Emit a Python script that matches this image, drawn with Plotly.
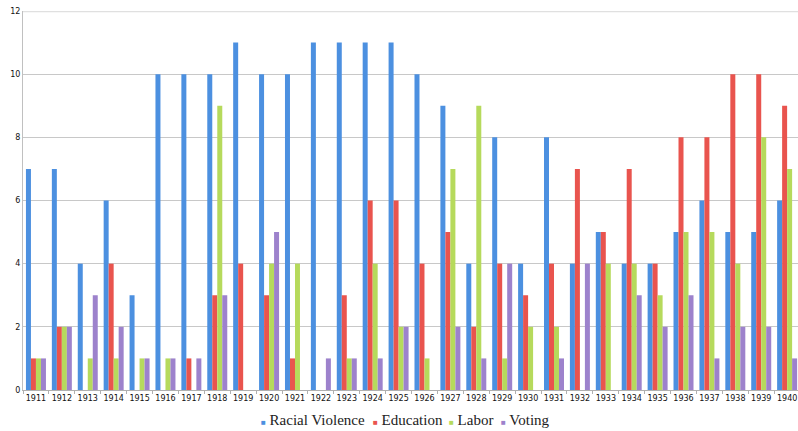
import plotly.graph_objects as go

years = [str(y) for y in range(1911, 1941)]
racial_violence = [7, 7, 4, 6, 3, 10, 10, 10, 11, 10, 10, 11, 11, 11, 11, 10, 9, 4, 8, 4, 8, 4, 5, 4, 4, 5, 6, 5, 5, 6]
education =       [1, 2, 0, 4, 0, 0, 1, 3, 4, 3, 1, 0, 3, 6, 6, 4, 5, 2, 4, 3, 4, 7, 5, 7, 4, 8, 8, 10, 10, 9]
labor =           [1, 2, 1, 1, 1, 1, 0, 9, 0, 4, 4, 0, 1, 4, 2, 1, 7, 9, 1, 2, 2, 0, 4, 4, 3, 5, 5, 4, 8, 7]
voting =          [1, 2, 3, 2, 1, 1, 1, 3, 0, 5, 0, 1, 1, 1, 2, 0, 2, 1, 4, 0, 1, 4, 0, 3, 2, 3, 1, 2, 2, 1]

series_names = ["Racial Violence", "Education", "Labor", "Voting"]
series_values = [racial_violence, education, labor, voting]
series_colors = ["#4c90e0", "#e9544e", "#b6da5c", "#9d82cc"]

W, H = 798, 431
ML, MR, MT, MB = 23, 0, 11, 41
PW, PH = W - ML - MR, H - MT - MB

fig = go.Figure()
for name, vals, color in zip(series_names, series_values, series_colors):
    fig.add_trace(go.Bar(x=years, y=vals, name=name, marker=dict(color=color, line=dict(width=0))))

# legend drawn as text annotations (small square markers like the reference)
SERIF = "Liberation Serif"
legend_px = [259, 371, 447, 499]
legend_y_px = 420
for name, color, px in zip(series_names, series_colors, legend_px):
    fig.add_annotation(
        xref="paper", yref="paper",
        x=(px - ML) / PW, y=-(legend_y_px - (H - MB)) / PH,
        xanchor="left", yanchor="middle", showarrow=False,
        text=(f'<span style="color:{color};font-size:8px">■</span>'
              f'<span style="font-family:{SERIF}"> {name}</span>'),
        font=dict(family=SERIF, size=15, color="#222"),
    )

fig.update_layout(
    width=W, height=H,
    margin=dict(l=ML, r=MR, t=MT, b=MB, autoexpand=False),
    paper_bgcolor="white", plot_bgcolor="white",
    barmode="group", bargap=0.228, bargroupgap=0,
    showlegend=False,
    xaxis=dict(type="category", range=[-0.5, 29.42], showgrid=False, showline=True,
               linecolor="#b0b0b0", ticks="outside", ticklen=3, tickcolor="#b0b0b0",
               tickson="boundaries", tickangle=0, automargin=False, ticklabeloverflow="allow",
               tickfont=dict(family="DejaVu Sans", size=8, color="#111"), zeroline=False),
    yaxis=dict(range=[0, 12], tickvals=[0, 2, 4, 6, 8, 10, 12], showgrid=True,
               gridcolor="#c8c8c8", gridwidth=1, showline=True, linecolor="#c0c0c0",
               zeroline=False, ticks="", ticklen=0, automargin=False, ticklabeloverflow="allow",
               tickfont=dict(family="DejaVu Sans", size=8, color="#111")),
)
fig.add_shape(type="line", xref="paper", yref="y", x0=0, x1=1, y0=12, y1=12,
              line=dict(color="#e0e0e0", width=2.5))
fig.write_html(
    "out.html",
    config={"displayModeBar": False},
    post_script="document.body.style.margin='0';document.body.style.overflow='hidden';",
)
